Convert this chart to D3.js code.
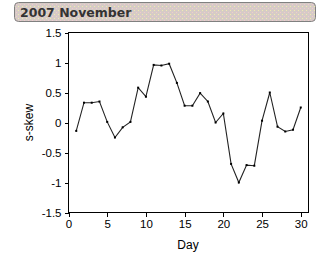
<!DOCTYPE html>
<meta charset="utf-8">
<head>
  <script src="https://d3js.org/d3.v7.min.js"></script>
</head>
<style>
body { margin: 0; background: #fff; }
.axis text { font-family: "Liberation Sans", Arial, sans-serif; font-size: 11.5px; fill: #000; }
.axis path, .axis line { stroke: #000; shape-rendering: crispEdges; }
.label { font-family: "Liberation Sans", Arial, sans-serif; font-size: 12px; fill: #000; }
.title { font-family: "DejaVu Sans", Verdana, sans-serif; font-size: 12.5px; font-weight: bold; fill: #333; }
</style>
<body>
<svg width="325" height="253" id="container"></svg>
<script>

// s-skew per day
var days = [1,2,3,4,5,6,7,8,9,10,11,12,13,14,15,16,17,18,19,20,21,22,23,24,25,26,27,28,29,30];
var skew = [-0.14,0.33,0.33,0.35,0.01,-0.25,-0.08,0.01,0.58,0.43,0.96,0.95,0.98,0.66,0.28,
            0.28,0.49,0.35,0.0,0.15,-0.69,-1.0,-0.71,-0.72,0.03,0.5,-0.07,-0.15,-0.12,0.25];
var xTicks = [0,5,10,15,20,25,30];
var yTicks = [-1.5,-1,-0.5,0,0.5,1,1.5];

var svg = d3.select('#container');

// title bar with dotted fill
var defs = svg.append('defs');
var pat = defs.append('pattern')
    .attr('id', 'dots')
    .attr('width', 4).attr('height', 4)
    .attr('patternUnits', 'userSpaceOnUse');
pat.append('rect').attr('width', 4).attr('height', 4).attr('fill', '#d6cbc6');
pat.append('rect').attr('x', 0).attr('y', 0).attr('width', 1).attr('height', 1).attr('fill', '#f0c8d0');
pat.append('rect').attr('x', 2).attr('y', 2).attr('width', 1).attr('height', 1).attr('fill', '#f0ecb0');

svg.append('rect')
   .attr('x', 14.5).attr('y', 2.5)
   .attr('width', 301).attr('height', 19)
   .attr('rx', 4).attr('ry', 4)
   .attr('fill', 'url(#dots)')
   .attr('stroke', '#808080');

svg.append('text')
   .attr('class', 'title')
   .attr('x', 20).attr('y', 17)
   .text('2007 November');

var margin = {top: 32.5, left: 68.5, right: 308.5, bottom: 212.5};

var xScale = d3.scaleLinear().domain([0, 31]).range([margin.left, margin.right]);
var yScale = d3.scaleLinear().domain([-1.5, 1.5]).range([margin.bottom, margin.top]);

// frame
svg.append('rect')
   .attr('x', margin.left).attr('y', margin.top)
   .attr('width', margin.right - margin.left)
   .attr('height', margin.bottom - margin.top)
   .attr('fill', 'none')
   .attr('stroke', '#000')
   .attr('shape-rendering', 'crispEdges');

svg.append('g')
   .attr('class', 'axis')
   .attr('transform', 'translate(0,' + margin.bottom + ')')
   .call(d3.axisBottom(xScale).tickValues(xTicks).tickSizeOuter(0).tickSize(4).tickPadding(3));

svg.append('g')
   .attr('class', 'axis')
   .attr('transform', 'translate(' + margin.left + ',0)')
   .call(d3.axisLeft(yScale).tickValues(yTicks).tickSizeOuter(0).tickSize(4).tickPadding(3)
          .tickFormat(function(d) { return String(d); }));

svg.selectAll('.axis .domain').remove();

var line = d3.line()
    .x(function(d, i) { return xScale(days[i]); })
    .y(function(d) { return yScale(d); });

svg.append('path')
   .datum(skew)
   .attr('d', line)
   .attr('fill', 'none')
   .attr('stroke', '#222')
   .attr('stroke-width', 1.1);

svg.selectAll('.pt')
   .data(skew)
   .enter()
   .append('rect')
   .attr('class', 'pt')
   .attr('x', function(d, i) { return xScale(days[i]) - 1; })
   .attr('y', function(d) { return yScale(d) - 1; })
   .attr('width', 2).attr('height', 2)
   .attr('fill', '#000');

svg.append('text')
   .attr('class', 'label')
   .attr('x', 188).attr('y', 249)
   .attr('text-anchor', 'middle')
   .text('Day');

svg.append('text')
   .attr('class', 'label')
   .attr('transform', 'translate(33,' + yScale(0) + ') rotate(-90)')
   .attr('text-anchor', 'middle')
   .text('s-skew');

</script>
</body>
